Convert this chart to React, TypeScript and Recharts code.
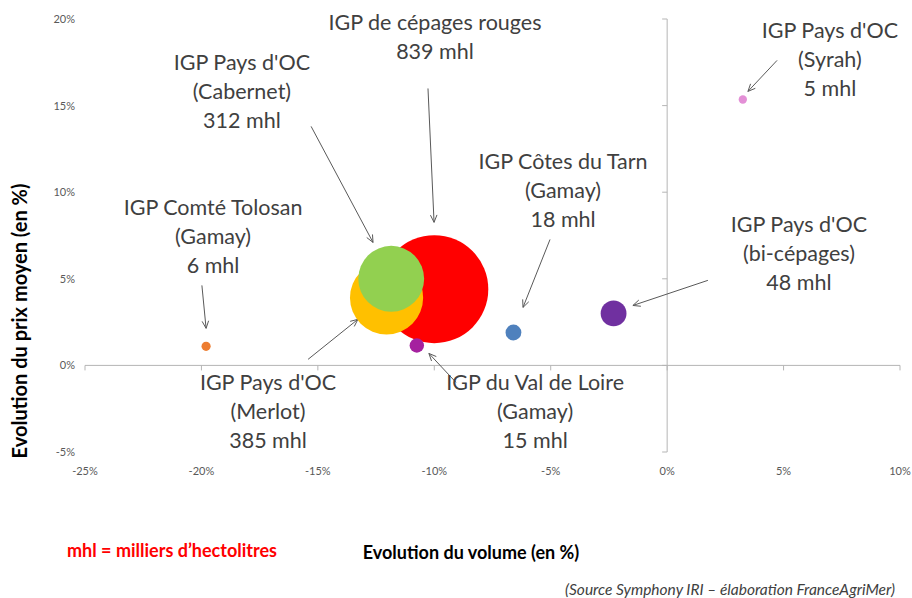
import React from 'react';
import { ScatterChart, Scatter, XAxis, YAxis, ZAxis, ReferenceLine, ReferenceDot, Cell } from 'recharts';

// ---- data ----
const CATEGORIES = [
  'IGP Comté Tolosan (Gamay)',
  'IGP de cépages rouges',
  "IGP Pays d'OC (Merlot)",
  "IGP Pays d'OC (Cabernet)",
  'IGP du Val de Loire (Gamay)',
  'IGP Côtes du Tarn (Gamay)',
  "IGP Pays d'OC (bi-cépages)",
  "IGP Pays d'OC (Syrah)",
];
const VOLUME_CHANGE = [-19.8, -10.0, -12.05, -11.85, -10.75, -6.6, -2.3, 3.25];
const PRICE_CHANGE = [1.1, 4.4, 3.9, 5.0, 1.15, 1.9, 3.0, 15.35];
const VOLUME_MHL = [6, 839, 385, 312, 15, 18, 48, 5];
const NAME_LINES = [
  ['IGP Comté Tolosan', '(Gamay)'],
  ['IGP de cépages rouges'],
  ["IGP Pays d'OC", '(Merlot)'],
  ["IGP Pays d'OC", '(Cabernet)'],
  ['IGP du Val de Loire', '(Gamay)'],
  ['IGP Côtes du Tarn', '(Gamay)'],
  ["IGP Pays d'OC", '(bi-cépages)'],
  ["IGP Pays d'OC", '(Syrah)'],
];
const X_TICKS = [-25, -20, -15, -10, -5, 0, 5, 10];
const Y_TICKS = [-5, 0, 5, 10, 15, 20];

// ---- annotation anchors (data units) ----
const LABEL_X = [-19.5, -9.97, -17.14, -18.26, -5.67, -4.47, 5.66, 6.99];
const LABEL_Y = [7.45, 19.0, -2.66, 15.82, -2.66, 10.1, 6.47, 17.67];
const ARROW_FROM_X = [-19.98, -10.27, -15.42, -15.29, -9.07, -5.03, 1.75, 4.72];
const ARROW_FROM_Y = [4.62, 15.99, 0.35, 13.8, -0.98, 7.27, 4.91, 17.61];
const ARROW_TO_X = [-19.8, -10.01, -13.28, -12.63, -10.23, -6.19, -1.47, 3.47];
const ARROW_TO_Y = [2.14, 8.26, 2.66, 7.1, 0.69, 3.35, 3.46, 15.82];

// ---- styles ----
const COLORS = ['#ED7D31', '#FF0000', '#FFC000', '#92D050', '#A5219F', '#4F81BD', '#7030A0', '#E38FD6'];
const FONT = 'Lato, "Open Sans", sans-serif';
const AXIS_COLOR = '#b5b5b5';
const TEXT_COLOR = '#404040';

const bubbles = CATEGORIES.map((name, i) => ({
  name,
  x: VOLUME_CHANGE[i],
  y: PRICE_CHANGE[i],
  z: VOLUME_MHL[i],
}));

const X_MIN = X_TICKS[0];
const X_MAX = X_TICKS[X_TICKS.length - 1];
const Y_MIN = Y_TICKS[0];
const Y_MAX = Y_TICKS[Y_TICKS.length - 1];

const HorizontalAxisLine = (props: any) => {
  const { x1, x2, y1 } = props;
  const left = Math.min(x1, x2);
  const right = Math.max(x1, x2);
  return (
    <g>
      <line x1={left} x2={right} y1={y1} y2={y1} stroke={AXIS_COLOR} strokeWidth={1} />
      {X_TICKS.map((t) => {
        const px = left + ((t - X_MIN) / (X_MAX - X_MIN)) * (right - left);
        return <line key={t} x1={px} x2={px} y1={y1} y2={y1 + 5} stroke={AXIS_COLOR} strokeWidth={1} />;
      })}
    </g>
  );
};

const VerticalAxisLine = (props: any) => {
  const { x1, y1, y2 } = props;
  const top = Math.min(y1, y2);
  const bottom = Math.max(y1, y2);
  return (
    <g>
      <line x1={x1} x2={x1} y1={top} y2={bottom} stroke={AXIS_COLOR} strokeWidth={1} />
      {Y_TICKS.map((t) => {
        const py = bottom - ((t - Y_MIN) / (Y_MAX - Y_MIN)) * (bottom - top);
        return <line key={t} x1={x1 - 5} x2={x1} y1={py} y2={py} stroke={AXIS_COLOR} strokeWidth={1} />;
      })}
    </g>
  );
};

const Arrow = (props: any) => {
  const { x1, y1, x2, y2 } = props;
  const ang = Math.atan2(y2 - y1, x2 - x1);
  const len = 8;
  const spread = 0.42;
  const ax = x2 - len * Math.cos(ang - spread);
  const ay = y2 - len * Math.sin(ang - spread);
  const bx = x2 - len * Math.cos(ang + spread);
  const by = y2 - len * Math.sin(ang + spread);
  return (
    <g>
      <line x1={x1} y1={y1} x2={x2} y2={y2} stroke="#595959" strokeWidth={1} />
      <polyline points={`${ax},${ay} ${x2},${y2} ${bx},${by}`} fill="none" stroke="#595959" strokeWidth={1} />
    </g>
  );
};

const makeLabel = (lines: string[]) => (props: any) => {
  const { cx, cy } = props;
  const spacing = 29;
  const start = cy - ((lines.length - 1) / 2) * spacing;
  return (
    <text
      textAnchor="middle"
      fontFamily={FONT}
      fontSize={21.5}
      fill={TEXT_COLOR}
    >
      {lines.map((l, i) => (
        <tspan key={i} x={cx} y={start + i * spacing} dominantBaseline="central">
          {l}
        </tspan>
      ))}
    </text>
  );
};

export default function App() {
  return (
    <div style={{ position: 'absolute', left: 0, top: 0, width: 912, height: 598, background: '#fff', fontFamily: FONT }}>
      <ScatterChart width={912} height={598} margin={{ top: 19, right: 12, bottom: 116, left: 25 }}>
        <XAxis
          type="number"
          dataKey="x"
          domain={[X_MIN, X_MAX]}
          ticks={X_TICKS}
          interval={0}
          tickFormatter={(v: number) => `${v}%`}
          axisLine={false}
          tickLine={false}
          tickSize={0}
          tickMargin={15}
          height={30}
          tick={{ fontSize: 11, fill: '#595959', fontFamily: FONT }}
        />
        <YAxis
          type="number"
          dataKey="y"
          domain={[Y_MIN, Y_MAX]}
          ticks={Y_TICKS}
          interval={0}
          tickFormatter={(v: number) => `${v}%`}
          axisLine={false}
          tickLine={false}
          tickSize={0}
          tickMargin={10}
          width={60}
          tick={{ fontSize: 11, fill: '#595959', fontFamily: FONT }}
        />
        <ZAxis type="number" dataKey="z" domain={[0, 839]} range={[0, Math.PI * 54 * 54]} />
        <ReferenceLine y={0} stroke={AXIS_COLOR} shape={HorizontalAxisLine} ifOverflow="visible" />
        <ReferenceLine x={0} stroke={AXIS_COLOR} shape={VerticalAxisLine} ifOverflow="visible" />
        <Scatter data={bubbles} isAnimationActive={false}>
          {bubbles.map((b, i) => (
            <Cell key={b.name} fill={COLORS[i]} />
          ))}
        </Scatter>
        {CATEGORIES.map((c, i) => (
          <ReferenceLine
            key={'a' + c}
            segment={[
              { x: ARROW_FROM_X[i], y: ARROW_FROM_Y[i] },
              { x: ARROW_TO_X[i], y: ARROW_TO_Y[i] },
            ]}
            shape={Arrow}
            ifOverflow="visible"
          />
        ))}
        {CATEGORIES.map((c, i) => (
          <ReferenceDot
            key={'l' + c}
            x={LABEL_X[i]}
            y={LABEL_Y[i]}
            r={0}
            ifOverflow="visible"
            shape={makeLabel([...NAME_LINES[i], `${VOLUME_MHL[i]} mhl`])}
          />
        ))}
      </ScatterChart>
      <div
        style={{
          position: 'absolute',
          left: 19,
          top: 321,
          transform: 'translate(-50%, -50%) rotate(-90deg)',
          whiteSpace: 'nowrap',
          fontWeight: 700,
          fontSize: 20,
          color: '#000',
          lineHeight: 1,
        }}
      >
        Evolution du prix moyen (en %)
      </div>
      <div
        style={{
          position: 'absolute',
          left: 471,
          top: 552,
          transform: 'translate(-50%, -50%)',
          whiteSpace: 'nowrap',
          fontWeight: 700,
          fontSize: 18,
          color: '#000',
          lineHeight: 1,
        }}
      >
        Evolution du volume (en %)
      </div>
      <div
        style={{
          position: 'absolute',
          left: 172,
          top: 550,
          transform: 'translate(-50%, -50%)',
          whiteSpace: 'nowrap',
          fontWeight: 700,
          fontSize: 18,
          color: '#FF0000',
          lineHeight: 1,
        }}
      >
        mhl = milliers d’hectolitres
      </div>
      <div
        style={{
          position: 'absolute',
          right: 17,
          top: 590,
          transform: 'translateY(-50%)',
          whiteSpace: 'nowrap',
          fontStyle: 'italic',
          fontSize: 15.5,
          color: TEXT_COLOR,
          lineHeight: 1,
        }}
      >
        (Source Symphony IRI – élaboration FranceAgriMer)
      </div>
    </div>
  );
}
